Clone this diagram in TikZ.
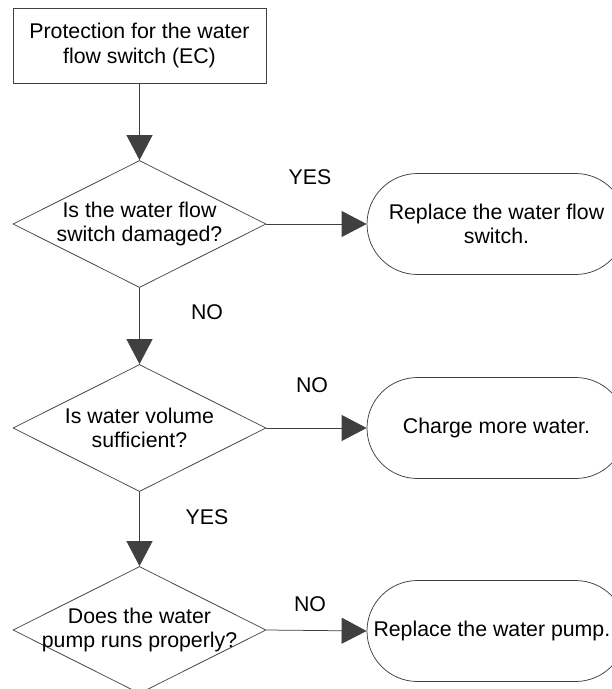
\documentclass[tikz,border=0pt]{standalone}
\usepackage{fontspec}
\setmainfont{Liberation Sans}
\usetikzlibrary{shapes.geometric,shapes.misc,arrows.meta}
\definecolor{ink}{HTML}{404040}
\begin{document}
\begin{tikzpicture}[x=1pt,y=-1pt,
  every node/.style={font=\fontsize{21.3pt}{24.5pt}\selectfont, text=black},
  outline/.style={draw=ink, line width=0.75pt},
  procbox/.style={outline, rectangle, minimum width=253pt, minimum height=75pt, inner sep=0pt, align=center},
  decision/.style={outline, diamond, minimum width=253pt, minimum height=127pt, inner sep=0pt},
  terminal/.style={outline, rounded rectangle, minimum width=259pt, minimum height=101pt, inner sep=0pt},
  caption/.style={align=center, inner sep=0pt},
  flow/.style={draw=ink, line width=0.75pt, -{Triangle[length=25pt,width=26pt]}}
]
\useasboundingbox (0,0) rectangle (612,689);
\clip (0,0) rectangle (612,689);

% start box
\node[procbox] (start) at (139.5,45.5) {Protection for the water\\flow switch (EC)};

% decisions
\node[decision] (d1) at (139.5,224) {};
\node[caption] (d1t) at (d1.center) {Is the water flow\\switch damaged?};
\node[decision] (d2) at (139.5,428) {};
\node[caption] (d2t) at (d2.center) {Is water volume\\sufficient?};
\node[decision] (d3) at (139.5,630) {};
\node[caption] (d3t) at (d3.center) {Does the water\\pump runs properly?};

% actions
\node[terminal] (t1) at (496.5,224) {};
\node[caption] (t1t) at (t1.center) {Replace the water flow\\switch.};
\node[terminal] (t2) at (496.5,428) {};
\node[caption] (t2t) at (t2.center) {Charge more water.};
\node[terminal] (t3) at (496.5,631) {};
\node[caption, anchor=east] (t3t) at (610.5,631) {Replace the water pump.};

% connectors
\draw[flow] (start.south) -- (d1.north);
\draw[flow] (d1.south) -- (d2.north);
\draw[flow] (d2.south) -- (d3.north);
\draw[flow] (d1.east) -- (t1.west);
\draw[flow] (d2.east) -- (t2.west);
\draw[flow] (d3.east) -- (t3.west);

% branch labels
\node[caption] (y1) at (310,177) {YES};
\node[caption] (n1) at (207,312) {NO};
\node[caption] (n2) at (312,385) {NO};
\node[caption] (y2) at (207,517) {YES};
\node[caption] (n3) at (310,604) {NO};
\end{tikzpicture}
\end{document}
